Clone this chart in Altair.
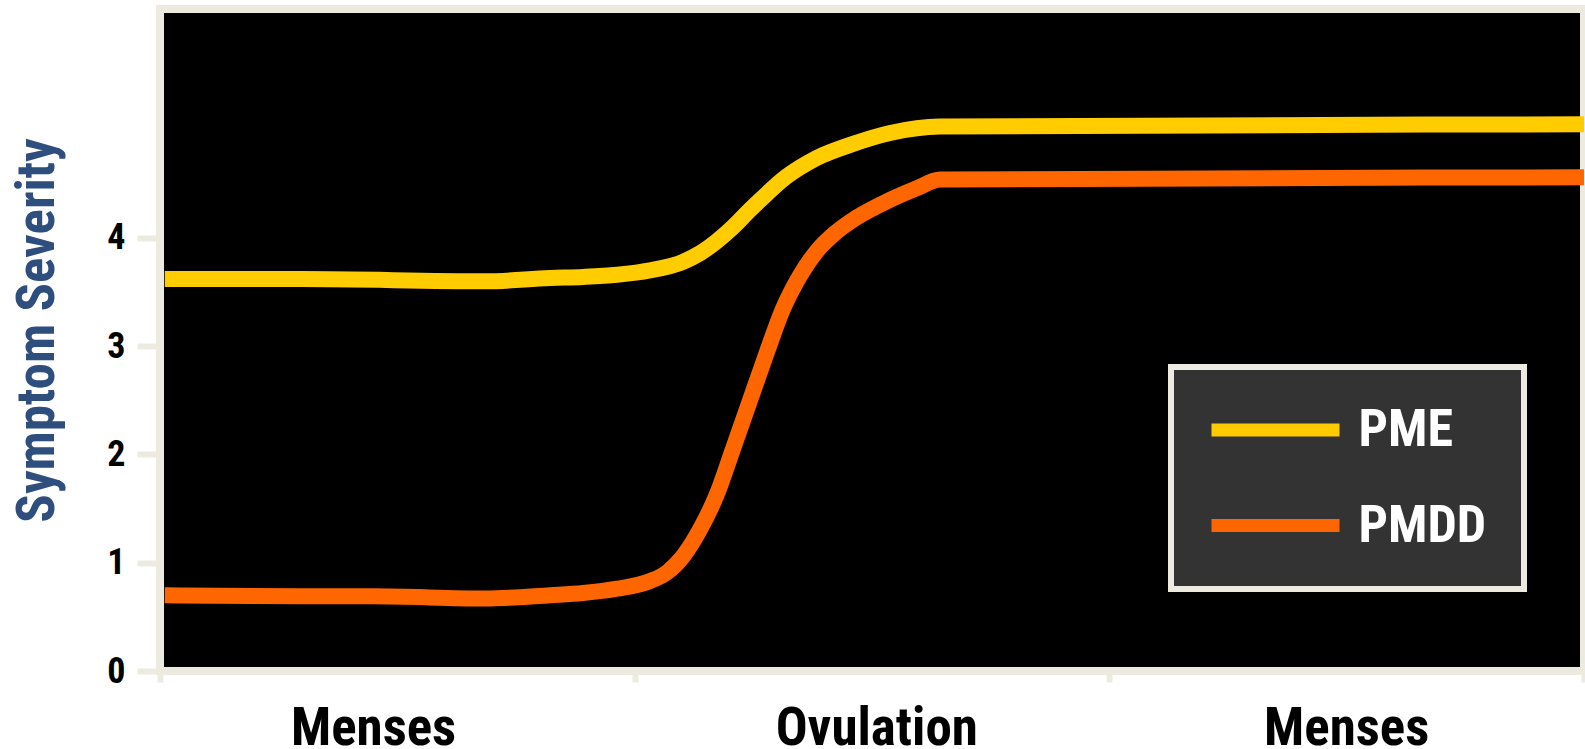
import altair as alt
import pandas as pd

# Cycle position in days (0 = start of menses, 30 = next menses)
pme_days = [0.1, 3.0, 6.85, 8.22, 8.91, 9.63, 10.32, 11.02, 11.38, 11.73, 12.07, 12.43,
            12.79, 13.12, 13.48, 13.84, 14.54, 15.38, 16.43, 30.0]
pme_severity = [3.62, 3.62, 3.60, 3.63, 3.64, 3.66, 3.70, 3.78, 3.86, 3.97, 4.10, 4.26,
                4.41, 4.54, 4.65, 4.74, 4.86, 4.97, 5.03, 5.05]

pmdd_days = [0.1, 3.0, 4.5, 6.85, 8.22, 8.91, 9.63, 10.32, 10.68, 11.02, 11.38, 11.73,
             12.07, 12.43, 12.79, 13.12, 13.48, 13.84, 14.18, 14.54, 15.23, 15.95, 16.43, 30.0]
pmdd_severity = [0.70, 0.69, 0.69, 0.67, 0.70, 0.72, 0.76, 0.83, 0.91, 1.06, 1.31, 1.63,
                 2.05, 2.50, 2.95, 3.34, 3.65, 3.88, 4.03, 4.15, 4.32, 4.46, 4.54, 4.56]

series_names = ["PME", "PMDD"]
series_colors = ["#FFCC00", "#FF6600"]

phase_labels = ["Menses", "Ovulation", "Menses"]
phase_days = [4.5, 15.1, 25.0]

x_ticks = [0, 10, 20, 30]
y_ticks = [0, 1, 2, 3, 4]

BEIGE = "#EDEAE0"
BLUE = "#2E4E7E"
NARROW = "Roboto Condensed, Liberation Sans Narrow, Arial Narrow, Liberation Sans, sans-serif"

# Legend swatch: a long horizontal bar
LEGEND_SWATCH = "M-4,0H4"

lines = pd.concat([
    pd.DataFrame({"day": pme_days, "severity": pme_severity, "series": "PME"}),
    pd.DataFrame({"day": pmdd_days, "severity": pmdd_severity, "series": "PMDD"}),
])
phases = pd.DataFrame({"day": phase_days, "phase": phase_labels})

x_scale = alt.Scale(domain=[0, 30], nice=False, zero=False)
y_scale = alt.Scale(domain=[0, 6.115], nice=False)

curves = alt.Chart(lines).mark_line(strokeWidth=16, interpolate="monotone", clip=True).encode(
    x=alt.X("day:Q", scale=x_scale,
            axis=alt.Axis(values=x_ticks, labels=False, title=None, domain=False, grid=False,
                          tickColor=BEIGE, tickSize=11, tickWidth=6)),
    y=alt.Y("severity:Q", scale=y_scale,
            axis=alt.Axis(values=y_ticks, domain=False, grid=False,
                          tickColor=BEIGE, tickSize=23, tickWidth=6,
                          labelFont=NARROW, labelFontSize=36, labelFontWeight="bold",
                          labelColor="black", labelPadding=12,
                          title="Symptom Severity", titleFont=NARROW, titleFontSize=53,
                          titleFontWeight="bold", titleColor=BLUE, titleAngle=270,
                          titleX=-107, titleY=321, titleAlign="center",
                          titleBaseline="alphabetic")),
    color=alt.Color("series:N",
                    scale=alt.Scale(domain=series_names, range=series_colors),
                    legend=alt.Legend(orient="none", legendX=1011, legendY=358, title=None,
                                      fillColor="#333333", strokeColor=BEIGE, padding=37,
                                      symbolType=LEGEND_SWATCH, symbolSize=1024,
                                      symbolStrokeWidth=13, symbolOffset=41.5,
                                      labelOffset=57, rowPadding=43.5,
                                      labelFont=NARROW, labelFontSize=52,
                                      labelFontWeight="bold", labelColor="white")),
    detail="series:N",
)

phase_text = alt.Chart(phases).mark_text(
    font=NARROW, fontSize=53, fontWeight="bold", color="black",
    align="center", baseline="alphabetic",
).encode(
    x=alt.X("day:Q", scale=x_scale),
    y=alt.value(736),
    text="phase:N",
)

chart = alt.layer(curves, phase_text).properties(
    width=1424, height=662,
    autosize=alt.AutoSizeParams(type="none"),
    padding={"left": 160, "top": 9, "right": 1, "bottom": 78},
    background="white",
).configure_view(
    fill="black", stroke=BEIGE, strokeWidth=8,
).configure_legend(strokeWidth=6)

chart.save("out.html", embed_options={"renderer": "svg", "actions": False})
